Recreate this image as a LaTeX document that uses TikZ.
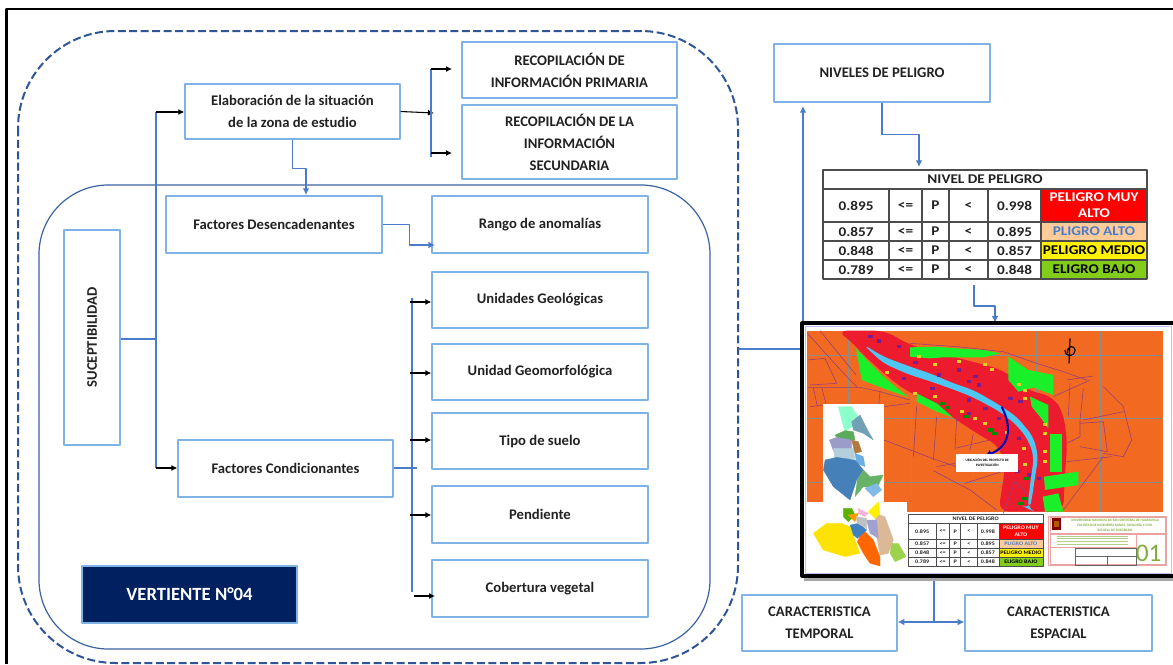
\documentclass[tikz,border=0pt]{standalone}
\usepackage{fontspec}
\setmainfont{Carlito}
\newfontfamily\tablafont[FakeStretch=1.14]{Carlito}
\usetikzlibrary{arrows.meta,calc}

\definecolor{boxblue}{HTML}{7FB3E6}
\definecolor{lineblue}{HTML}{4A7CCB}
\definecolor{dashblue}{HTML}{2F5597}
\definecolor{navy}{HTML}{002060}
\definecolor{inktext}{HTML}{222222}
\definecolor{mapred}{HTML}{EC1C2E}
\definecolor{maporange}{HTML}{F26A22}
\definecolor{mapgreen}{HTML}{19F02A}
\definecolor{road}{HTML}{9A3F78}
\definecolor{block}{HTML}{7B1E8A}
\definecolor{plate}{HTML}{E9A3A3}
\definecolor{plategreen}{HTML}{7FAE3A}

\tikzset{
  size/.style 2 args={minimum width=#1*.75pt, minimum height=#2*.75pt},
  box/.style={draw=boxblue, line width=1pt, fill=white, inner sep=0pt, align=center,
    text=inktext, font=\bfseries\fontsize{11}{16.5}\selectfont},
  link/.style={draw=lineblue, line width=.9pt},
  linkto/.style={link, -{Latex[length=5pt,width=5pt]}},
  stub/.style={black, line width=.8pt, -{Latex[length=4.5pt,width=4.5pt]}},
  road line/.style={road, line width=.45pt},
  cell/.style={inner sep=0pt, align=center, text=inktext},
}

% nivel de peligro table, 324 by 109 in local units
\newcommand\tablapeligro[3]{
  \fill[white] (0,0) rectangle (324,109);
  \fill[red] (218,19) rectangle (324,52);
  \fill[orange!40!white] (218,52) rectangle (324,71);
  \fill[yellow] (218,71) rectangle (324,90);
  \fill[green!60!black!55!yellow!90!white] (218,90) rectangle (324,109);
  \draw[black!70, line width=#2] (0,0) rectangle (324,109);
  \draw[black!70, line width=#2] (0,19) -- (324,19) (0,52) -- (324,52) (0,71) -- (324,71) (0,90) -- (324,90);
  \foreach \c in {66,99,126,165,218}
    \draw[black!70, line width=#2] (\c,19) -- (\c,109);
  \begin{scope}[every node/.style={cell, font=\tablafont\bfseries\fontsize{#1}{#3}\selectfont}]
    \node at (162,9.5) {NIVEL DE PELIGRO};
    \foreach \y/\a/\b in {35.5/0.895/0.998,61.5/0.857/0.895,80.5/0.848/0.857,99.5/0.789/0.848} {
      \node at (33,\y) {\a};
      \node at (82.5,\y) {<=};
      \node at (112.5,\y) {P};
      \node at (145.5,\y) {<};
      \node at (191.5,\y) {\b};
    }
    \node[text=white] at (271,35.5) {PELIGRO MUY\\ALTO};
    \node[text=lineblue] at (271,61.5) {PLIGRO ALTO};
    \node[text=black] at (271,80.5) {PELIGRO MEDIO};
    \node[text=black] at (271,99.5) {ELIGRO BAJO};
  \end{scope}
}

\begin{document}
\begin{tikzpicture}[x=.75pt, y=-.75pt, line join=round]
  \path[use as bounding box, fill=white] (0,0) rectangle (1173,664);
  % outer frame
  \draw[black, line width=1.6pt] (6.5,664) -- (6.5,9) -- (1173,9);
  % rounded frames
  \draw[dashblue, line width=1.5pt, dash pattern=on 6pt off 2.6pt, rounded corners=73pt]
    (18,31) rectangle (738,663);
  \draw[lineblue!80!black, line width=.9pt, rounded corners=52pt] (39,185) rectangle (710,649);

  % left column
  \node[box, size={56}{215}] (susc) at (92,337.5) {\rotatebox{90}{SUCEPTIBILIDAD}};
  \node[box, size={215}{55}] (elab) at (292.5,111.5) {Elaboración de la situación\\de la zona de estudio};
  \node[box, size={215}{56}] (primaria) at (569.5,70) {RECOPILACIÓN DE\\INFORMACIÓN PRIMARIA};
  \node[box, size={215}{74}] (secundaria) at (569.5,142) {RECOPILACIÓN DE LA\\INFORMACIÓN\\SECUNDARIA};
  \node[box, size={216}{57}] (desenc) at (274,224.5) {Factores Desencadenantes};
  \node[box, size={216}{57}] (rango) at (540,224.5) {Rango de anomalías};
  \node[box, size={215}{57}] (cond) at (285.5,468.5) {Factores Condicionantes};
  \node[box, size={216}{56}] (geol) at (540,300) {Unidades Geológicas};
  \node[box, size={216}{56}] (geom) at (540,372) {Unidad Geomorfológica};
  \node[box, size={216}{56}] (suelo) at (540,441) {Tipo de suelo};
  \node[box, size={216}{57}] (pend) at (540,514.5) {Pendiente};
  \node[box, size={216}{57}] (cober) at (540,588.5) {Cobertura vegetal};
  \node[box, size={215}{57}, fill=navy, text=white, font=\bfseries\fontsize{14}{16}\selectfont] (vert) at (189.5,594.5) {VERTIENTE N°04};

  % right column
  \node[box, size={216}{58}] (niveles) at (882,73) {NIVELES DE PELIGRO};
  \node[box, size={155}{56}] (temporal) at (819.5,623) {CARACTERISTICA\\TEMPORAL};
  \node[box, size={187}{56}] (espacial) at (1058.5,623) {CARACTERISTICA\\ESPACIAL};
  \node[inner sep=0pt, size={324}{109}] (tabla) at (985,224.5) {};
  \node[inner sep=0pt, size={371}{254}] (mapa) at (987.5,450) {};

  % trunk coordinates
  \coordinate (sus out) at (156,339);
  \coordinate (up) at (156,112);
  \coordinate (down) at (156,468);
  \coordinate (rec top) at (431,69);
  \coordinate (rec bot) at (431,157);
  \coordinate (rec mid) at (434,113);
  \coordinate (fac top) at (412,298);
  \coordinate (fac bot) at (412,592);
  \coordinate (fac end) at (417,468);
  \coordinate (mid right) at (739,349);
  \coordinate (mid up) at (803,349);
  \coordinate (split) at (934,622);

  % connectors
  \draw[link] (susc.east |- sus out) -- (sus out);
  \draw[link] (up) -- (down);
  \draw[stub] (up) -- (elab.west |- up);
  \draw[stub] (down) -- (cond.west |- down);
  \draw[stub] (elab.east) -- (rec mid);
  \draw[link] (rec top) -- (rec bot);
  \draw[stub] (rec top) -- ++(21,0);
  \draw[stub] (431,153) -- ++(21,0);
  \draw[linkto] (elab.south) -- ++(0,29) -| (306,195);
  \draw[linkto] (desenc.east) -- ++(27,0) |- (435,245);
  \draw[link] (fac top) -- (fac bot);
  \draw[link] (cond.east |- fac end) -- (fac end);
  \foreach \n/\y in {geol/302,geom/373,suelo/440,pend/515}
    \draw[stub] (410,\y) -- (\n.west |- 0,\y);
  \draw[stub] (414,596) -- (435,596);
  \draw[link] (mid right) -- (mid up);
  \draw[linkto] (mid up) -- (803,106);
  \draw[linkto] (niveles.south) -- ++(0,32) -| (919,167);
  \draw[linkto] (974,285) -- ++(0,21) -| (mapa.north -| 995,0);
  \draw[link] (split |- mapa.south) -- (split);
  \draw[linkto] (split) -- (temporal.east |- split);
  \draw[linkto] (split) -- (espacial.west |- split);

  % table
  \begin{scope}[shift={(823,170)}]
    \tablapeligro{10}{.8pt}{12}
  \end{scope}

  % map sheet, local units are thirds of a pixel
  \begin{scope}[shift={(770,300)}, x=.25pt, y=-.25pt]
    \fill[black!35] (102,78) rectangle (1215,842);
    \draw[black, line width=3pt, fill=white] (97,70) rectangle (1215,828);
    \draw[blue!25!white, line width=1pt] (106,79) rectangle (1205,820);
    \fill[maporange] (112,92) rectangle (1180,635);
    % grid
    \foreach \c in {235,425,610,800,990}
      \draw[black!45, line width=.3pt] (\c,92) -- (\c,635);
    \foreach \c in {165,355,548}
      \draw[black!45, line width=.3pt] (112,\c) -- (1180,\c);
    % hazard zone
    \fill[mapred, rounded corners=8pt] (200,92) -- (345,92) -- (420,135) -- (550,170) -- (700,210) -- (770,270)
      -- (850,290) -- (880,340) -- (892,430) -- (885,520) -- (880,635) -- (685,635) -- (695,570) -- (705,510)
      -- (690,440) -- (620,400) -- (500,320) -- (420,278) -- (370,245) -- (280,165) -- (240,120) -- cycle;
    % roads
    \foreach \r in {
      {(112,180) -- (165,175) -- (200,250) -- (120,255)},
      {(112,262) -- (270,262) -- (330,275) -- (420,300)},
      {(130,262) -- (142,320)}, {(155,262) -- (170,320)},
      {(330,275) -- (325,322) -- (420,310)},
      {(342,420) -- (500,480) -- (560,500)},
      {(440,318) -- (430,470)}, {(500,350) -- (490,480)}, {(560,352) -- (555,445) -- (660,420)},
      {(610,400) -- (600,450)}, {(500,500) -- (555,490)},
      {(490,512) -- (600,570) -- (680,630)}, {(585,550) -- (695,515)},
      {(850,290) -- (960,240)}, {(890,240) -- (970,228)}, {(900,250) -- (895,350)},
      {(940,265) -- (930,360) -- (930,410) -- (890,430)},
      {(1000,260) -- (1060,320) -- (1085,420) -- (1060,470) -- (1000,460)},
      {(940,360) -- (1060,335)}, {(930,370) -- (1000,365) -- (1012,455) -- (930,440)},
      {(890,485) -- (1025,470)}, {(880,630) -- (1000,470)},
      {(420,130) -- (560,140) -- (700,155) -- (800,190) -- (880,215) -- (950,240)},
      {(112,100) -- (230,230) -- (262,262)}, {(150,92) -- (258,225)},
      {(700,640) -- (735,545) -- (780,590)}, {(120,320) -- (160,315)}
    } \draw[road line] \r;
    % green plots
    \fill[mapgreen] (420,142) -- (500,140) -- (560,145) -- (640,150) -- (692,160) -- (640,172) -- (520,172) -- (480,175) -- (420,170) -- cycle;
    \fill[mapgreen] (258,145) -- (300,190) -- (340,230) -- (415,292) -- (340,265) -- (275,240) -- cycle;
    \fill[mapgreen] (440,280) -- (500,310) -- (548,352) -- (500,335) -- (440,305) -- cycle;
    \fill[mapgreen] (715,170) -- (775,210) -- (850,225) -- (850,285) -- (790,262) -- (745,275) -- (715,240) -- cycle;
    \fill[mapgreen] (780,290) -- (835,315) -- (835,385) -- (810,350) -- (785,320) -- cycle;
    \fill[mapgreen] (840,403) rectangle (877,515);
    \fill[mapgreen] (822,530) -- (925,515) -- (925,555) -- (825,570) -- cycle;
    \fill[mapgreen] (818,590) -- (865,580) -- (880,635) -- (825,635) -- cycle;
    % river
    \fill[cyan!70!white, rounded corners=6pt] (278,132) -- (340,170) -- (420,200) -- (480,220) -- (550,250) -- (610,270)
      -- (680,310) -- (740,350) -- (790,410) -- (805,470) -- (795,530) -- (785,600) -- (778,628)
      -- (772,625) -- (782,540) -- (792,470) -- (775,420) -- (740,375) -- (690,335) -- (610,292)
      -- (560,272) -- (470,240) -- (420,225) -- (340,190) -- cycle;
    % blocks
    \foreach \c/\d in {295/105,320/118,380/135,430/182,500/220,590/240,620/250,640/320,680/350,715/290,745/300,
      560/205,610/225,395/230,480/260,590/295,590/335,740/410,770/520,735/510,800/530}
      \fill[block] (\c,\d) rectangle ++(14,10);
    \foreach \c/\d in {440/165,490/190,560/180,640/190,660/205,345/212,430/275,490/285,570/330,610/350,640/365,
      740/250,760/268,760/292,705/392,755/440,820/370,820/395,820/450,820/480,760/490}
      \fill[yellow!85!black] (\c,\d) rectangle ++(12,9);
    \foreach \c/\d in {510/305,525/318,580/345,655/385,665/395,755/590,745/605,760/530}
      \fill[green!55!black] (\c,\d) rectangle ++(16,10);
    % location arrow and label
    \draw[blue!70!black, line width=1.5pt, -{Latex[length=5pt,width=6pt]}] (695,320) .. controls (730,390) and (715,440) .. (645,468);
    \node[fill=white, inner sep=0pt, size={62}{18}, align=center, text=black,
      font=\bfseries\fontsize{2.6}{3.4}\selectfont] (ubicacion) at (651.5,488) {UBICACIÓN DEL PROYECTO DE\\INVESTIGACIÓN};
    % north sign
    \draw[black, line width=.9pt] (900,115) -- (897,190) (885,150) .. controls (885,175) and (915,170) .. (915,150)
      .. controls (915,135) and (890,135) .. (892,160);
    % upper inset
    \fill[white] (158,313) rectangle (342,605);
    \begin{scope}[draw=black!35, line width=.2pt]
      \filldraw[green!45!cyan!45!white] (205,320) -- (245,320) -- (270,360) -- (240,385) -- (225,395) -- (215,360) -- cycle;
      \filldraw[cyan!55!black!70!white] (245,365) -- (270,345) -- (290,385) -- (310,420) -- (280,400) -- (250,390) -- cycle;
      \filldraw[green!50!black!65!white] (195,405) -- (225,392) -- (250,395) -- (255,420) -- (210,425) -- cycle;
      \filldraw[blue!30!gray!60!white] (178,420) -- (200,412) -- (245,420) -- (245,445) -- (190,452) -- cycle;
      \filldraw[cyan!40!gray!50!white] (190,445) -- (250,445) -- (255,475) -- (195,482) -- cycle;
      \filldraw[orange!60!black!75!white] (245,420) -- (265,425) -- (275,455) -- (255,460) -- cycle;
      \filldraw[cyan!70!blue!60!white] (255,460) -- (280,470) -- (285,500) -- (260,490) -- cycle;
      \filldraw[blue!50!cyan!45!gray] (165,480) -- (200,472) -- (255,480) -- (280,510) -- (260,540) -- (240,600) -- (190,560) -- (160,510) -- cycle;
      \filldraw[green!50!black!60!white] (262,540) -- (280,510) -- (300,530) -- (340,525) -- (320,565) -- (280,560) -- (255,590) -- cycle;
      \filldraw[cyan!70!blue!50!white] (285,565) -- (320,550) -- (335,570) -- (310,590) -- cycle;
    \end{scope}
    % lower inset
    \fill[white] (112,605) rectangle (412,802);
    \begin{scope}[draw=black!35, line width=.2pt]
      \filldraw[yellow!85!orange] (130,700) -- (170,670) -- (215,670) -- (240,680) -- (270,760) -- (225,770) -- (160,750) -- cycle;
      \filldraw[orange!80!red] (280,690) -- (310,720) -- (330,770) -- (330,798) -- (300,790) -- (280,760) -- (262,725) -- cycle;
      \filldraw[brown!55!white] (315,640) -- (345,650) -- (370,720) -- (355,760) -- (330,765) -- (320,710) -- cycle;
      \filldraw[green!55!black!55!yellow!70!white] (365,730) -- (385,730) -- (408,770) -- (375,785) -- (360,760) -- cycle;
      \filldraw[blue!35!gray!55!white] (290,660) -- (320,660) -- (325,715) -- (300,700) -- cycle;
      \filldraw[blue!50!cyan!50!gray] (240,675) -- (265,670) -- (290,690) -- (262,715) -- (250,705) -- cycle;
      \filldraw[yellow] (295,635) -- (325,605) -- (330,640) -- (315,655) -- cycle;
      \filldraw[magenta!30!white] (265,625) -- (295,640) -- (285,650) -- (265,640) -- cycle;
      \filldraw[green!50!yellow!70!black] (220,625) -- (245,625) -- (255,645) -- (235,665) -- (220,650) -- cycle;
      \filldraw[orange!80!yellow] (235,645) -- (265,640) -- (255,665) -- cycle;
      \filldraw[black!25] (258,650) -- (290,655) -- (290,685) -- (262,670) -- cycle;
    \end{scope}
    % title block
    \draw[plate, line width=.5pt] (835,650) rectangle (1188,795);
    \draw[plate, line width=.5pt] (842,652) rectangle (1186,700);
    \draw[plate, line width=.5pt] (842,702) rectangle (1098,742);
    \draw[plate, line width=.5pt] (1098,702) rectangle (1186,792);
    \draw[plate, line width=.5pt] (842,742) rectangle (1098,792);
    \draw[black!60, line width=.3pt] (915,745) rectangle (1098,795) (1012,768) -- (1012,795) (915,768) -- (1098,768);
    \fill[red!50!black] (845,655) rectangle (872,690);
    \fill[orange!70!black] (851,662) rectangle (866,682);
    \node[cell, text=plategreen, font=\bfseries\fontsize{2.6}{3.6}\selectfont] (facultad) at (1035,676)
      {UNIVERSIDAD NACIONAL DE SAN CRISTÓBAL DE HUAMANGA\\FACULTAD DE INGENIERÍA MINAS, GEOLOGÍA Y CIVIL\\ESCUELA DE POSGRADO};
    \foreach \d in {708,716,724,732}
      \draw[plategreen!60!white, line width=.5pt] (860,\d) -- (1075,\d);
    \node[cell, text=plategreen, font=\fontsize{19}{20}\selectfont] (lamina) at (1136,760) {01};
  \end{scope}
  % table on the sheet
  \begin{scope}[shift={(908.5,514.5)}, x=.311pt, y=-.357pt]
    \tablapeligro{4}{.4pt}{5}
  \end{scope}
\end{tikzpicture}
\end{document}
